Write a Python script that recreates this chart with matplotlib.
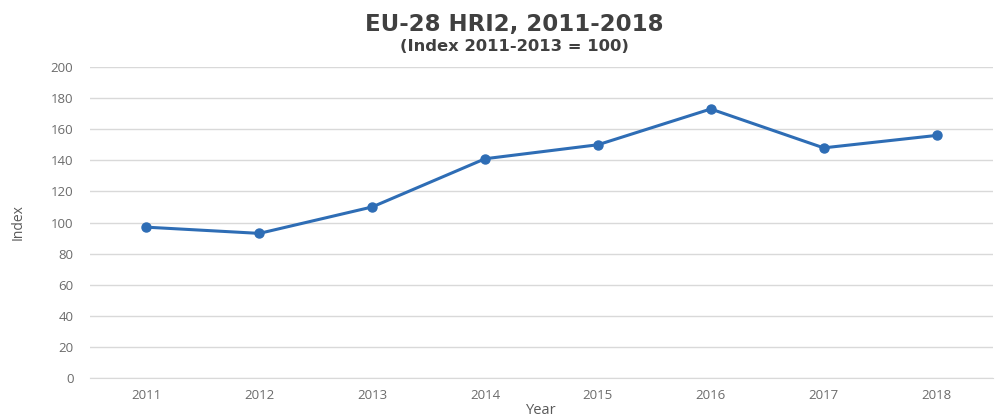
import matplotlib
matplotlib.use("Agg")
import matplotlib.pyplot as plt

plt.rcParams['font.family'] = ['Open Sans', 'DejaVu Sans']

years = ['2011', '2012', '2013', '2014', '2015', '2016', '2017', '2018']
index_values = [97, 93, 110, 141, 150, 173, 148, 156]
y_ticks = list(range(0, 201, 20))

fig = plt.figure(figsize=(10.05, 4.18), dpi=100)
ax = fig.add_axes([0.0896, 0.0957, 0.8984, 0.744])

x = list(range(len(years)))
ax.plot(x, index_values, color='#2E6DB5', linewidth=2.2, marker='o', markersize=6.5, zorder=3)

ax.set_xlim(-0.5, len(years) - 0.5)
ax.set_ylim(0, 200)
ax.set_xticks(x)
ax.set_xticklabels(years)
ax.set_yticks(y_ticks)
ax.grid(axis='y', color='#D9D9D9', linewidth=1)
ax.set_axisbelow(True)
for s in ['top', 'right', 'left']:
    ax.spines[s].set_visible(False)
ax.spines['bottom'].set_color('#D9D9D9')
ax.tick_params(axis='both', length=0, colors='#6B6B6B', labelsize=9.5)
ax.tick_params(axis='y', pad=12)
ax.tick_params(axis='x', pad=8)

ax.set_ylabel('Index', color='#595959', fontsize=10, labelpad=18)
ax.set_xlabel('Year', color='#595959', fontsize=10.5, labelpad=1)

fig.text(0.512, 0.942, 'EU-28 HRI2, 2011-2018', ha='center', va='center',
         fontsize=16.5, fontweight='bold', color='#404040', family='DejaVu Sans')
fig.text(0.512, 0.888, '(Index 2011-2013 = 100)', ha='center', va='center',
         fontsize=11.8, fontweight='bold', color='#404040', family='DejaVu Sans')

fig.savefig('out.png', dpi=100)
